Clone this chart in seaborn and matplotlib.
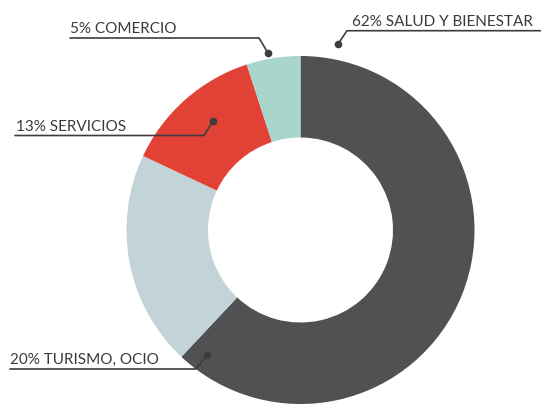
import matplotlib
matplotlib.use("Agg")
import matplotlib.pyplot as plt
import seaborn as sns

categories = ["SALUD Y BIENESTAR", "TURISMO, OCIO", "SERVICIOS", "COMERCIO"]
values = [62, 20, 13, 5]
colors = ["#505153", "#c3d4d8", "#e24236", "#a9d6cc"]

sns.set_theme(style="white")
plt.rcParams['font.family'] = ['Source Sans Pro', 'Lato', 'DejaVu Sans']

fig = plt.figure(figsize=(5.41, 4.06), dpi=100)
ax = fig.add_axes([0, 0, 1, 1])

cx, cy, R, r_in = 300.5, 231, 174, 92.5
wedges, _ = ax.pie(values, colors=colors, startangle=-90, counterclock=True,
                   radius=R, center=(cx, cy),
                   wedgeprops=dict(width=R - r_in, linewidth=0),
                   frame=True)
ax.set_xlim(0, 541)
ax.set_ylim(406, 0)
ax.set_aspect('equal')
ax.axis('off')

# label layout: dot, elbow, line end, text x, text baseline
layout = {
    "SALUD Y BIENESTAR": dict(dot=(338, 45), elbow=(347, 31.7), end=(545, 31.7), tx=352, ty=25.7),
    "COMERCIO": dict(dot=(268, 54), elbow=(259, 39), end=(70, 39), tx=70, ty=32.7),
    "SERVICIOS": dict(dot=(213, 122), elbow=(204, 136.5), end=(15, 136.5), tx=16.5, ty=131.5),
    "TURISMO, OCIO": dict(dot=(207, 356), elbow=(196, 370), end=(10, 370), tx=10, ty=364),
}
lc = "#3d3d3d"
for cat, v in zip(categories, values):
    L = layout[cat]
    ax.plot([L['dot'][0], L['elbow'][0], L['end'][0]],
            [L['dot'][1], L['elbow'][1], L['end'][1]], color=lc, lw=1.2,
            solid_joinstyle='round', clip_on=False, zorder=5)
    ax.plot([L['dot'][0]], [L['dot'][1]], 'o', color=lc, ms=4.5, clip_on=False, zorder=6)
    ax.text(L['tx'], L['ty'], f"{v}% {cat}", ha='left', va='baseline',
            fontsize=11, color="#3a3a3a")

fig.savefig("out.png", dpi=100)
